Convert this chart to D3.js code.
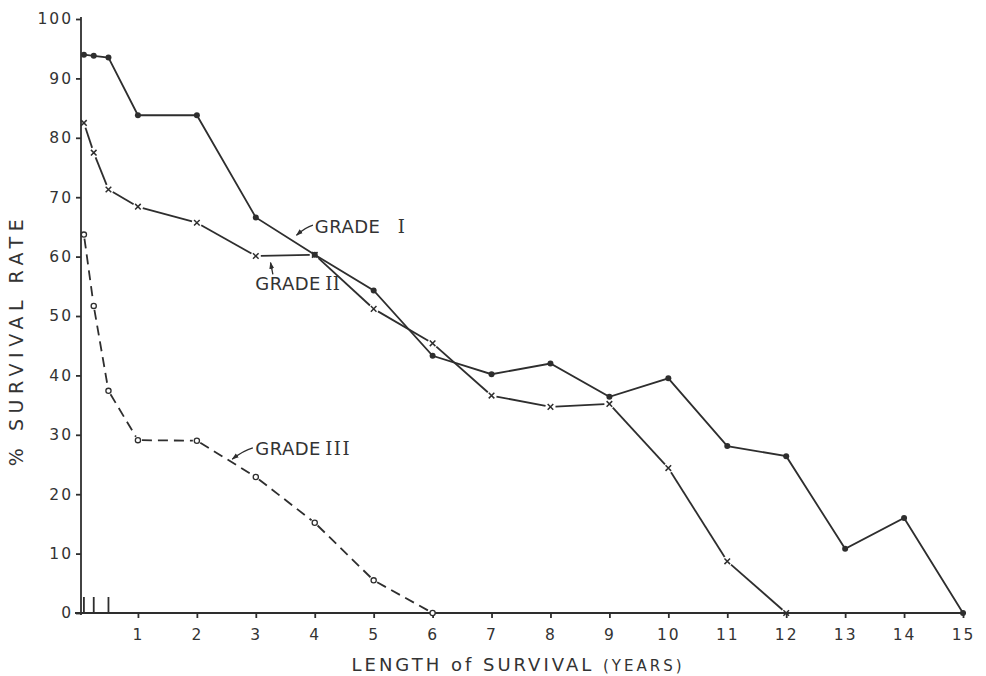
<!DOCTYPE html>
<html><head><meta charset="utf-8">
<script src="https://cdn.jsdelivr.net/npm/d3@7"></script>
<style>
body{margin:0;background:#fff}
text{font-family:"DejaVu Sans",sans-serif;fill:#333}
</style>
</head><body>
<svg id="c" width="986" height="676"></svg>
<script>
// ---- data ----
const years = [1/12, 0.25, 0.5, 1, 2, 3, 4, 5, 6, 7, 8, 9, 10, 11, 12, 13, 14, 15];
const grade1 = [94.0, 93.8, 93.5, 83.8, 83.8, 66.6, 60.3, 54.3, 43.3, 40.2, 42.0, 36.4, 39.5, 28.1, 26.4, 10.8, 16.0, 0];
const grade2 = [82.5, 77.5, 71.3, 68.4, 65.7, 60.1, 60.3, 51.2, 45.4, 36.6, 34.7, 35.2, 24.4, 8.7, 0];
const grade3 = [63.7, 51.7, 37.4, 29.1, 29.0, 22.9, 15.2, 5.5, 0];
const yTicks = [0, 10, 20, 30, 40, 50, 60, 70, 80, 90, 100];
const xTicks = [1, 2, 3, 4, 5, 6, 7, 8, 9, 10, 11, 12, 13, 14, 15];
const earlyTicks = [1/12, 0.25, 0.5];
const yTitle = "% SURVIVAL RATE";
const xTitle = "LENGTH of SURVIVAL";
const xTitleUnit = "(YEARS)";
const labelText = ["GRADE", "GRADE", "GRADE"];
const labelNum = ["I", "II", "III"];

// ---- layout ----
const ink = "#2e2e2e";
const svg = d3.select("#c");
const x = d3.scaleLinear().domain([0, 15]).range([79, 963]);
const y = d3.scaleLinear().domain([0, 100]).range([613, 19]);

svg.append("defs").append("marker")
  .attr("id", "ah").attr("viewBox", "0 0 10 10").attr("refX", 9).attr("refY", 5)
  .attr("markerWidth", 7).attr("markerHeight", 7).attr("orient", "auto-start-reverse")
  .attr("markerUnits", "userSpaceOnUse")
  .append("path").attr("d", "M0,1.5L10,5L0,8.5Z").attr("fill", ink);

// axes
const gy = svg.append("g").attr("transform", `translate(${x(0) + 2},0)`)
  .call(d3.axisLeft(y).tickValues(yTicks).tickSize(5).tickSizeOuter(0).tickPadding(3));
const gx = svg.append("g").attr("transform", `translate(0,${y(0)})`)
  .call(d3.axisBottom(x).tickValues(xTicks).tickSize(5).tickSizeOuter(0).tickPadding(11));
[gx, gy].forEach(g => {
  g.selectAll("path,line").attr("stroke", ink).attr("stroke-width", 1.8);
  g.selectAll("text").attr("font-size", 15.5).attr("fill", ink)
    .attr("font-family", "'DejaVu Sans',sans-serif").attr("letter-spacing", 2);
});
gx.select(".domain").attr("d", `M${x(0) - 4},0H${x(15) + 3}`);
gy.select(".domain").attr("d", `M0,${y(0) + 2}V${y(100) - 2}`);

// early (month) ticks
svg.append("g").selectAll("line").data(earlyTicks).join("line")
  .attr("x1", d => x(d)).attr("x2", d => x(d))
  .attr("y1", y(0)).attr("y2", y(0) - 16)
  .attr("stroke", ink).attr("stroke-width", 1.8);

// helper: segments trimmed near markers
function segs(vals, gap) {
  const pts = vals.map((v, i) => [x(years[i]), y(v)]);
  const out = [];
  for (let i = 0; i < pts.length - 1; i++) {
    const [x0, y0] = pts[i], [x1, y1] = pts[i + 1];
    const L = Math.hypot(x1 - x0, y1 - y0);
    const ux = (x1 - x0) / L, uy = (y1 - y0) / L;
    out.push([x0 + ux * gap, y0 + uy * gap, x1 - ux * gap, y1 - uy * gap]);
  }
  return out;
}

// Grade III (dashed, open circles)
svg.append("g").selectAll("line").data(segs(grade3, 4)).join("line")
  .attr("x1", d => d[0]).attr("y1", d => d[1]).attr("x2", d => d[2]).attr("y2", d => d[3])
  .attr("stroke", ink).attr("stroke-width", 1.8).attr("stroke-dasharray", "10,6");
svg.append("g").selectAll("circle").data(grade3).join("circle")
  .attr("cx", (d, i) => x(years[i])).attr("cy", d => y(d)).attr("r", 2.6)
  .attr("fill", "#fff").attr("stroke", ink).attr("stroke-width", 1.3);

// Grade II (solid, x markers, gaps)
svg.append("g").selectAll("line").data(segs(grade2, 5)).join("line")
  .attr("x1", d => d[0]).attr("y1", d => d[1]).attr("x2", d => d[2]).attr("y2", d => d[3])
  .attr("stroke", ink).attr("stroke-width", 1.8);
svg.append("g").selectAll("path").data(grade2).join("path")
  .attr("transform", (d, i) => `translate(${x(years[i])},${y(d)})`)
  .attr("d", "M-2.8,-2.8L2.8,2.8M-2.8,2.8L2.8,-2.8")
  .attr("stroke", ink).attr("stroke-width", 1.5);

// Grade I (solid, dots)
svg.append("path").datum(grade1)
  .attr("d", d3.line().x((d, i) => x(years[i])).y(d => y(d)))
  .attr("fill", "none").attr("stroke", ink).attr("stroke-width", 1.8);
svg.append("g").selectAll("circle").data(grade1).join("circle")
  .attr("cx", (d, i) => x(years[i])).attr("cy", d => y(d)).attr("r", 3)
  .attr("fill", ink);

// annotations (in data units)
const ann = [
  {t: 4.0, v: 64.0, numDx: 83, a: [[3.97, 65.3], [3.69, 63.6]], curve: true},
  {t: 2.99, v: 54.4, numDx: 70, a: [[3.29, 57.0], [3.25, 59.0]], curve: false},
  {t: 2.99, v: 26.6, numDx: 70, a: [[2.95, 27.8], [2.60, 25.9]], curve: true}
];
ann.forEach((d, i) => {
  const t = svg.append("text").attr("x", x(d.t)).attr("y", y(d.v))
    .attr("font-size", 18).attr("letter-spacing", 0.5).attr("fill", ink);
  t.append("tspan").text(labelText[i]);
  t.append("tspan").attr("x", x(d.t) + d.numDx)
    .attr("font-family", "'DejaVu Serif',serif").attr("font-size", 18)
    .attr("letter-spacing", i === 2 ? 1.5 : 0.5).text(labelNum[i]);
  const [p0, p1] = d.a.map(q => [x(q[0]), y(q[1])]);
  const mx = (p0[0] + p1[0]) / 2, my = (p0[1] + p1[1]) / 2;
  const path = d.curve ? `M${p0[0]},${p0[1]}Q${mx + 1},${my - 3} ${p1[0]},${p1[1]}` : `M${p0[0]},${p0[1]}L${p1[0]},${p1[1]}`;
  svg.append("path").attr("d", path).attr("fill", "none")
    .attr("stroke", ink).attr("stroke-width", 1.3).attr("marker-end", "url(#ah)");
});

// axis titles
svg.append("text").attr("transform", "translate(23,340) rotate(-90)")
  .attr("text-anchor", "middle").attr("font-size", 19).attr("letter-spacing", 5.5)
  .attr("fill", ink).text(yTitle);
const xt = svg.append("text").attr("x", 518).attr("y", 671).attr("text-anchor", "middle")
  .attr("font-size", 18).attr("letter-spacing", 3).attr("fill", ink);
xt.append("tspan").text(xTitle + "  ");
xt.append("tspan").attr("font-size", 15).attr("letter-spacing", 3).text(xTitleUnit);
</script>
</body></html>
